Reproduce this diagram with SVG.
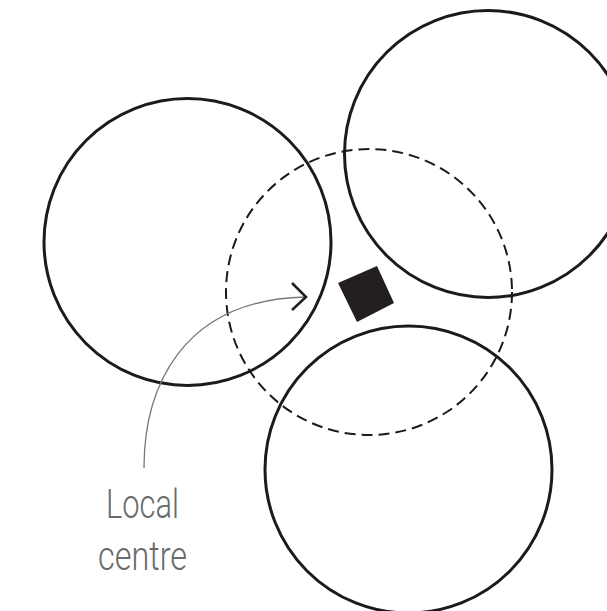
<svg xmlns="http://www.w3.org/2000/svg" width="607" height="611" viewBox="0 0 607 611">
<style>
.c{fill:none;stroke:#1c1a1a;stroke-width:3}
.d{fill:none;stroke:#1c1a1a;stroke-width:2;stroke-dasharray:11 6}
.t{font-family:Roboto,"Liberation Sans",sans-serif;font-weight:300;font-size:40px;fill:#6a6a6a}
</style>
<rect width="607" height="611" fill="#fff"/>
<g id="catchment-left"><circle class="c" cx="187.5" cy="242" r="143.5"/></g>
<g id="catchment-topright"><circle class="c" cx="488" cy="154" r="143.5"/></g>
<g id="catchment-bottom"><circle class="c" cx="408.5" cy="469.5" r="143.5"/></g>
<g id="local-area"><circle class="d" cx="369" cy="292" r="143"/></g>
<g id="centre"><polygon points="338,283 377,266 394,303 357,322" fill="#231f20"/></g>
<g id="connectors">
<path d="M144,468 C144,390 180,300 305,297" fill="none" stroke="#777" stroke-width="1.3"/>
<polyline points="292,283 306,297 292,310" fill="none" stroke="#231f20" stroke-width="2.6"/>
</g>
<g id="label">
<text class="t" x="106" y="518" textLength="73" lengthAdjust="spacingAndGlyphs">Local</text>
<text class="t" x="98" y="570" textLength="89" lengthAdjust="spacingAndGlyphs">centre</text>
</g>
</svg>
